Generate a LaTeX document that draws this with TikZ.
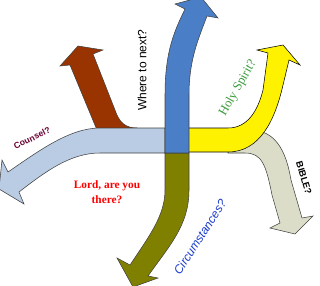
\documentclass[tikz,border=0pt]{standalone}
\usepackage{fontspec}
\setmainfont{Liberation Serif}
\setsansfont{Liberation Sans}
\definecolor{darkblue}{HTML}{4A7EC6}
\definecolor{paleblue}{HTML}{B9CCE4}
\definecolor{brick}{HTML}{993300}
\definecolor{olive}{HTML}{808000}
\definecolor{stone}{HTML}{DCDDC9}
\definecolor{spiritgreen}{HTML}{3A9A3A}
\definecolor{maroon}{HTML}{6B0033}
\definecolor{circblue}{HTML}{1A3CCC}
\tikzset{
    band/.style={draw=black!75, line width=0.4pt, line join=miter},
    label/.style={inner sep=0pt, font=\sffamily}
}

\begin{document}
\begin{tikzpicture}[x=0.75pt, y=-0.75pt]
    \useasboundingbox (0,0) rectangle (320,285);
    \clip (0,0) rectangle (320,285);

    % Draw arrows
    \filldraw[band, fill=stone] (228,130) -- (250,130) .. controls (275,130) and (286,150) .. (291,180)
        -- (302,218) -- (313,216) -- (295,234) -- (270,228) -- (280,223) -- (272,195)
        .. controls (266,165) and (262,153) .. (245,153) -- (228,153) -- cycle;
    \filldraw[band, fill=brick] (97,130) -- (70,65) -- (60,66) -- (78,46) -- (103,50) -- (93,54)
        -- (115,110) .. controls (119,122) and (125,128) .. (137,128) -- (137,130) -- cycle;
    \filldraw[band, fill=paleblue] (165,128) -- (100,128) .. controls (70,128) and (40,150) .. (8,172)
        -- (2,160) -- (-1,189) -- (24,204) -- (19,192) .. controls (45,172) and (70,153) .. (100,153)
        -- (165,153) -- cycle;
    \filldraw[band, fill=yellow, draw=black] (188,128) -- (228,128) .. controls (248,128) and (258,110) .. (263,90)
        -- (268,53) -- (257,50) -- (283,45) -- (300,65) -- (289,60) -- (283,85)
        .. controls (275,120) and (260,152) .. (228,152) -- (188,152) -- cycle;
    \filldraw[band, fill=olive] (165,153) -- (165,190) .. controls (165,215) and (150,235) .. (130,265)
        -- (117,258) -- (133,287) -- (158,278) -- (148,276) .. controls (170,245) and (189,225) .. (189,190)
        -- (189,153) -- cycle;
    \filldraw[band, fill=darkblue] (165,153) -- (165,95) .. controls (165,50) and (175,30) .. (185,9)
        -- (175,4) -- (201,-3) -- (218,18) -- (207,16) .. controls (198,40) and (189,60) .. (189,95)
        -- (189,153) -- cycle;

    % Labels
    \node[label, rotate=90, font=\sffamily\fontsize{9}{10}\selectfont] (next) at (142,70) {Where to next?};
    \node[label, rotate=60, font=\rmfamily\fontsize{9.5}{10}\selectfont, text=spiritgreen] (spirit) at (238,88) {Holy Spirit?};
    \node[label, rotate=26, font=\sffamily\bfseries\fontsize{6.5}{7}\selectfont, text=maroon] (counsel) at (32,138) {Counsel?};
    \node[label, align=center, font=\rmfamily\bfseries\fontsize{8.5}{11}\selectfont, text=red] (lord) at (107,192) {Lord, are you\\there?};
    \node[label, rotate=57, font=\sffamily\itshape\fontsize{9}{10}\selectfont, text=circblue] (circ) at (200,237) {Circumstances?};
    \node[label, rotate=-73, font=\sffamily\bfseries\fontsize{7}{8}\selectfont] (bible) at (304,178) {BIBLE?};
\end{tikzpicture}
\end{document}
